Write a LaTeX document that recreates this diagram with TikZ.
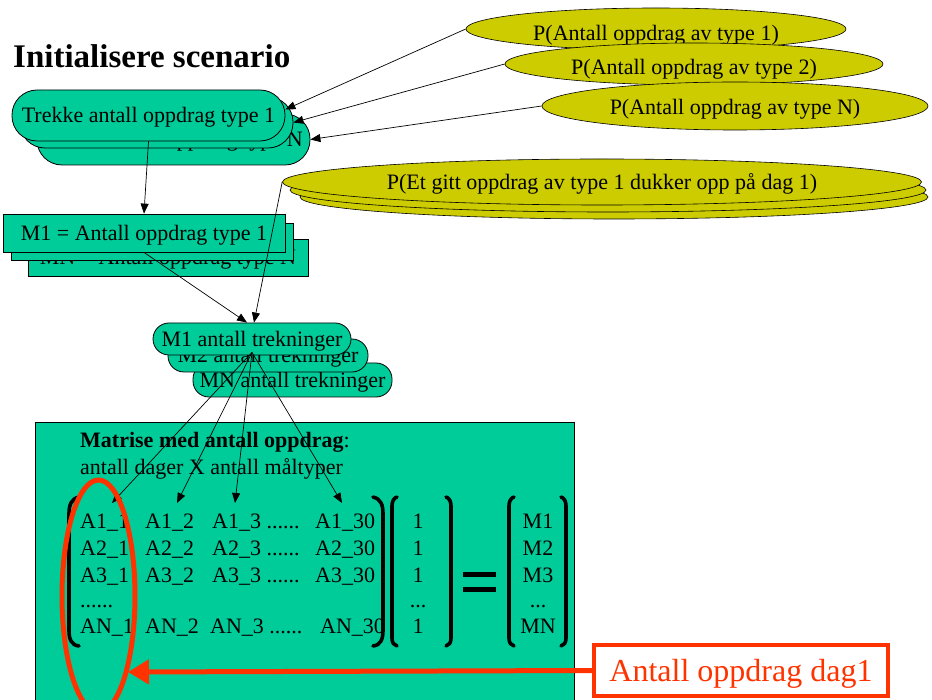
\documentclass[tikz,border=0pt]{standalone}
\usepackage{fontspec}
\setmainfont{Liberation Serif}
\usetikzlibrary{arrows.meta,shapes.geometric}
\definecolor{tealc}{HTML}{00CC99}
\definecolor{olivec}{HTML}{CCCC00}
\definecolor{redc}{HTML}{FF3300}
\newcommand{\lowerby}[2]{\raisebox{-#1}[\height][\depth]{#2}}
\begin{document}
\begin{tikzpicture}[x=1pt,y=-1pt,
  font=\fontsize{22}{26}\selectfont,
  capc/.style={text height=14.5pt, text depth=0pt},
  pill/.style={draw=black, line width=0.8pt, fill=tealc, rounded corners=#1, inner sep=0pt, capc},
  pill/.default=16pt,
  sq/.style={draw=black, line width=0.8pt, fill=tealc, inner sep=0pt, capc},
  oval/.style={ellipse, draw=black, line width=0.6pt, fill=olivec, inner sep=0pt, capc},
  conn/.style={line width=0.7pt, -{Triangle[length=10pt,width=8pt]}},
  txt/.style={inner sep=0pt, anchor=base west},
  ctxt/.style={inner sep=0pt, anchor=base},
  brk/.style={line width=3.6pt, line cap=round}]
\useasboundingbox (0,0) rectangle (932,700);
\clip (0,0) rectangle (932,700);
\fill[white] (0,0) rectangle (932,700);

% title
\node[txt, font=\fontsize{33}{38}\selectfont\bfseries] (title) at (13,68) {Initialisere scenario};

% probability ellipses (top)
\node[oval, minimum width=380pt, minimum height=42pt] (e1) at (656,29) {\lowerby{4pt}{P(Antall oppdrag av type 1)}};
\node[oval, minimum width=378pt, minimum height=42pt] (e2) at (694,64) {\lowerby{3pt}{P(Antall oppdrag av type 2)}};
\node[oval, minimum width=386pt, minimum height=48pt] (e3) at (735,106) {\lowerby{1pt}{P(Antall oppdrag av type N)}};

% P(Et gitt ...) stack
\node[oval, minimum width=628pt, minimum height=44pt] (ed3) at (614,197) {};
\node[oval, minimum width=636pt, minimum height=44pt] (ed2) at (608,190) {};
\node[oval, minimum width=639pt, minimum height=46pt] (ed1) at (602,182) {P(Et gitt oppdrag av type 1 dukker opp på dag 1)};

% Trekke stack
\node[pill=25pt, minimum width=273pt, minimum height=51pt] (tr3) at (173.5,139.5) {Trekke antall oppdrag type N};
\node[pill=25pt, minimum width=273pt, minimum height=51pt] (tr2) at (156.5,122.5) {Trekke antall oppdrag type 2};
\node[pill=25pt, minimum width=273pt, minimum height=51pt] (tr1) at (148.5,115.5) {Trekke antall oppdrag type 1};

% M stack
\node[sq, minimum width=280pt, minimum height=37pt] (m3) at (168,257.5) {MN = Antall oppdrag type N};
\node[sq, minimum width=282pt, minimum height=37pt] (m2) at (152,241.5) {M2 = Antall oppdrag type 2};
\node[sq, minimum width=282pt, minimum height=38pt] (m1) at (144,233) {M1 = Antall oppdrag type 1};

% trekninger stack
\node[pill=16pt, minimum width=199pt, minimum height=34pt] (k3) at (292.5,380) {MN antall trekninger};
\node[pill=16pt, minimum width=200pt, minimum height=33pt] (k2) at (268,355.5) {M2 antall trekninger};
\node[pill=16pt, minimum width=198pt, minimum height=32pt] (k1) at (252,339) {M1 antall trekninger};

% matrix box
\node[sq, minimum width=539pt, minimum height=300pt, anchor=north west] (mbox) at (35,422) {};
\node[txt] (mt1) at (80,448) {\textbf{Matrise med antall oppdrag}:};
\node[txt] (mt2) at (80,475) {antall dager X antall måltyper};

% matrix entries
\node[txt] (a11) at (80,528) {A1\_1};
\node[txt] (a12) at (145,528) {A1\_2};
\node[txt] (a13) at (212,528) {A1\_3 ......};
\node[txt] (a130) at (315,528) {A1\_30};
\node[txt] (a21) at (80,555) {A2\_1};
\node[txt] (a22) at (145,555) {A2\_2};
\node[txt] (a23) at (212,555) {A2\_3 ......};
\node[txt] (a230) at (315,555) {A2\_30};
\node[txt] (a31) at (80,582) {A3\_1};
\node[txt] (a32) at (145,582) {A3\_2};
\node[txt] (a33) at (212,582) {A3\_3 ......};
\node[txt] (a330) at (315,582) {A3\_30};
\node[txt] (adots) at (80,607) {......};
\node[txt] (an1) at (80,633) {AN\_1};
\node[txt] (an2) at (145,633) {AN\_2};
\node[txt] (an3) at (210,633) {AN\_3 ......};
\node[txt] (an30) at (320,633) {AN\_30};

\node[ctxt] (v1) at (418,528) {1};
\node[ctxt] (v2) at (418,555) {1};
\node[ctxt] (v3) at (418,582) {1};
\node[ctxt] (v4) at (418,607) {...};
\node[ctxt] (v5) at (418,633) {1};

\node[ctxt] (r1) at (538,528) {M1};
\node[ctxt] (r2) at (538,555) {M2};
\node[ctxt] (r3) at (538,582) {M3};
\node[ctxt] (r4) at (538,607) {...};
\node[ctxt] (r5) at (538,633) {MN};

% brackets
\draw[brk] (79,497) .. controls (71,499) and (69,505) .. (69,514) -- (69,630) .. controls (69,639) and (71,645) .. (79,646);
\draw[brk] (373,497) .. controls (381,499) and (383,505) .. (383,514) -- (383,630) .. controls (383,639) and (381,645) .. (373,646);
\draw[brk] (397,497) .. controls (394,498) and (392,501) .. (392,506) -- (392,638) .. controls (392,643) and (394,645) .. (397,646);
\draw[brk] (446,497) .. controls (449,498) and (451,501) .. (451,506) -- (451,638) .. controls (451,643) and (449,645) .. (446,646);
\draw[brk] (514,497) .. controls (511,498) and (509,501) .. (509,506) -- (509,638) .. controls (509,643) and (511,645) .. (514,646);
\draw[brk] (561,497) .. controls (564,498) and (566,501) .. (566,506) -- (566,638) .. controls (566,643) and (564,645) .. (561,646);
\fill (463,572) rectangle (496,577);
\fill (463,587) rectangle (496,592);

% connectors
\draw[conn] (e1.west) -- ([yshift=6pt]tr1.east);
\draw[conn] (e2.west) -- (tr2.east);
\draw[conn] (e3.west) -- (tr3.east);
\draw[conn] (tr1.south) -- (m1.north);
\draw[conn] (m1.south) -- ([xshift=-5pt]k1.north);
\draw[conn] (ed1.west) -- ([xshift=2pt]k1.north);
\coordinate (t1) at (112,503);
\coordinate (t2) at (177,503);
\coordinate (t3) at (235,503);
\coordinate (t4) at (342,503);
\draw[conn] ([yshift=3pt]k1.south) -- (t1);
\draw[conn] ([yshift=3pt]k1.south) -- (t2);
\draw[conn] ([yshift=3pt]k1.south) -- (t3);
\draw[conn] ([yshift=3pt]k1.south) -- (t4);

% highlight
\draw[redc, line width=5pt] (98.5,596) ellipse [x radius=36.5pt, y radius=116pt];
\node[draw=redc, line width=4pt, text=redc, minimum width=294pt, minimum height=51pt, inner sep=0pt, text height=21pt, text depth=0pt, font=\fontsize{32}{38}\selectfont] (lbl) at (741,670.5) {Antall oppdrag dag1};
\coordinate (ovtip) at (128,672);
\draw[redc, line width=5pt, -{Triangle[length=21pt,width=24pt]}] (lbl.west) -- (ovtip);
\end{tikzpicture}
\end{document}
